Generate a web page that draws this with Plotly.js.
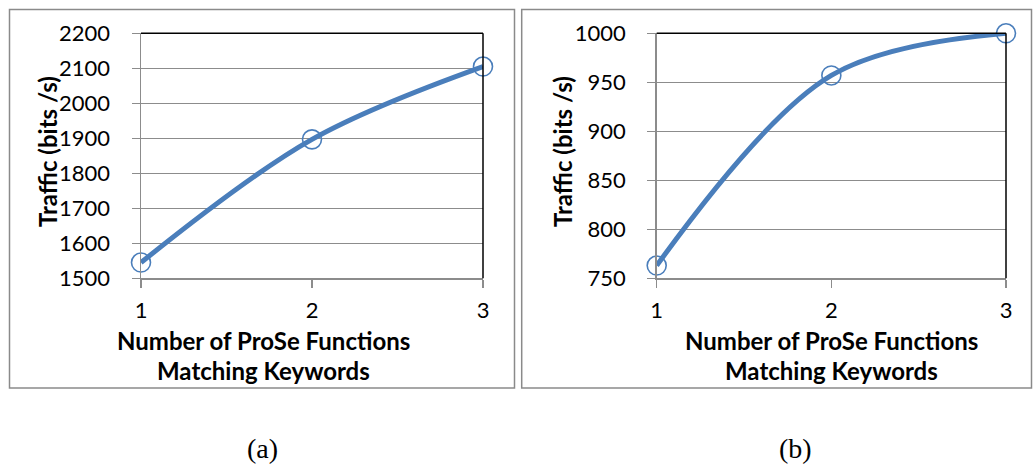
<!DOCTYPE html>
<html>
<head>
<meta charset="utf-8">
<script src="https://cdn.plot.ly/plotly-3.0.1.min.js"></script>
<style>html,body{margin:0;padding:0;background:#fff;}#chart{width:1033px;height:465px;}</style>
</head>
<body>
<div id="chart"></div>
<script>
// ---- data ----
const keywordCounts = [1, 2, 3];
const trafficA = [1545, 1897, 2105];
const trafficB = [763, 957, 1000];
const yTitle = 'Traffic (bits /s)';
const xTitleLine1 = 'Number of ProSe Functions';
const xTitleLine2 = 'Matching Keywords';
const panelLabels = ['(a)', '(b)'];

const W = 1033, H = 465;
const px = v => v / W;
const py = v => 1 - v / H;

const blue = '#4a7ebb';
const grid = '#8c8c8c';
const fontFam = 'Lato, "Open Sans", sans-serif';

function trace(y, xa, ya) {
  return {
    x: keywordCounts, y: y, xaxis: xa, yaxis: ya,
    type: 'scatter', mode: 'lines+markers',
    line: {color: blue, width: 5, shape: 'spline', smoothing: 1},
    marker: {symbol: 'circle-open', size: 19, color: blue, line: {width: 1.6, color: blue}},
    cliponaxis: false, showlegend: false, hoverinfo: 'x+y'
  };
}

function xax(domain) {
  return {
    domain: domain, range: [1, 3], tickvals: keywordCounts, ticktext: keywordCounts.map(String),
    showgrid: false, zeroline: false, showline: true, linecolor: grid, linewidth: 1.5,
    ticks: 'outside', ticklen: 8, tickcolor: grid, tickwidth: 1.5,
    ticklabelstandoff: 4,
    tickfont: {family: fontFam, size: 22, color: '#000'}, fixedrange: true
  };
}
function yax(domain, range, dtick, anchor) {
  return {
    domain: domain, range: range, dtick: dtick, anchor: anchor,
    showgrid: true, gridcolor: grid, gridwidth: 1.5, zeroline: false,
    showline: true, linecolor: grid, linewidth: 1.5,
    ticks: 'outside', ticklen: 8, tickcolor: grid, tickwidth: 1.5,
    ticklabelstandoff: 17,
    tickfont: {family: fontFam, size: 22, color: '#000'}, fixedrange: true
  };
}

const yDom = [py(278.3), py(33.3)];
const layout = {
  width: W, height: H, margin: {l: 0, r: 0, t: 0, b: 0},
  paper_bgcolor: '#fff', plot_bgcolor: '#fff',
  xaxis: Object.assign(xax([px(141), px(483)]), {anchor: 'y'}),
  yaxis: yax(yDom, [1500, 2200], 100, 'x'),
  xaxis2: Object.assign(xax([px(656.7), px(1006)]), {anchor: 'y2'}),
  yaxis2: yax(yDom, [750, 1000], 50, 'x2'),
  shapes: [
    {type: 'rect', xref: 'paper', yref: 'paper', x0: px(9.5), x1: px(514.5), y0: py(388), y1: py(9.5),
     line: {color: '#8a8a8a', width: 1.5}, layer: 'below'},
    {type: 'rect', xref: 'paper', yref: 'paper', x0: px(521.7), x1: px(1031.5), y0: py(388), y1: py(9.5),
     line: {color: '#8a8a8a', width: 1.5}, layer: 'below'},
    {type: 'line', xref: 'x domain', yref: 'y domain', x0: 0, x1: 1, y0: 1, y1: 1, line: {color: '#000', width: 1.5}},
    {type: 'line', xref: 'x domain', yref: 'y domain', x0: 1, x1: 1, y0: 0, y1: 1, line: {color: '#000', width: 1.5}},
    {type: 'line', xref: 'x2 domain', yref: 'y2 domain', x0: 0, x1: 1, y0: 1, y1: 1, line: {color: '#000', width: 1.5}},
    {type: 'line', xref: 'x2 domain', yref: 'y2 domain', x0: 1, x1: 1, y0: 0, y1: 1, line: {color: '#000', width: 1.5}}
  ],
  annotations: []
};

const titleFont = {family: fontFam, size: 24, color: '#000', weight: 'bold'};
function addTitles(yx, yc, xc) {
  layout.annotations.push({xref: 'paper', yref: 'paper', x: px(yx), y: py(yc), text: '<b>' + yTitle + '</b>',
    textangle: -90, showarrow: false, font: titleFont, xanchor: 'center', yanchor: 'middle'});
  layout.annotations.push({xref: 'paper', yref: 'paper', x: px(xc), y: py(340), text: '<b>' + xTitleLine1 + '</b>',
    showarrow: false, font: titleFont, xanchor: 'center', yanchor: 'middle'});
  layout.annotations.push({xref: 'paper', yref: 'paper', x: px(xc), y: py(370), text: '<b>' + xTitleLine2 + '</b>',
    showarrow: false, font: titleFont, xanchor: 'center', yanchor: 'middle'});
}
addTitles(47, 152, 263);
addTitles(562, 152, 831);

const labelFont = {family: '"Liberation Serif", "Times New Roman", serif', size: 28, color: '#000'};
layout.annotations.push({xref: 'paper', yref: 'paper', x: px(262), y: py(448), text: panelLabels[0],
  showarrow: false, font: labelFont, xanchor: 'center', yanchor: 'middle'});
layout.annotations.push({xref: 'paper', yref: 'paper', x: px(795), y: py(448), text: panelLabels[1],
  showarrow: false, font: labelFont, xanchor: 'center', yanchor: 'middle'});

Plotly.newPlot('chart', [trace(trafficA, 'x', 'y'), trace(trafficB, 'x2', 'y2')], layout,
  {displayModeBar: false, staticPlot: true});
</script>
</body>
</html>
